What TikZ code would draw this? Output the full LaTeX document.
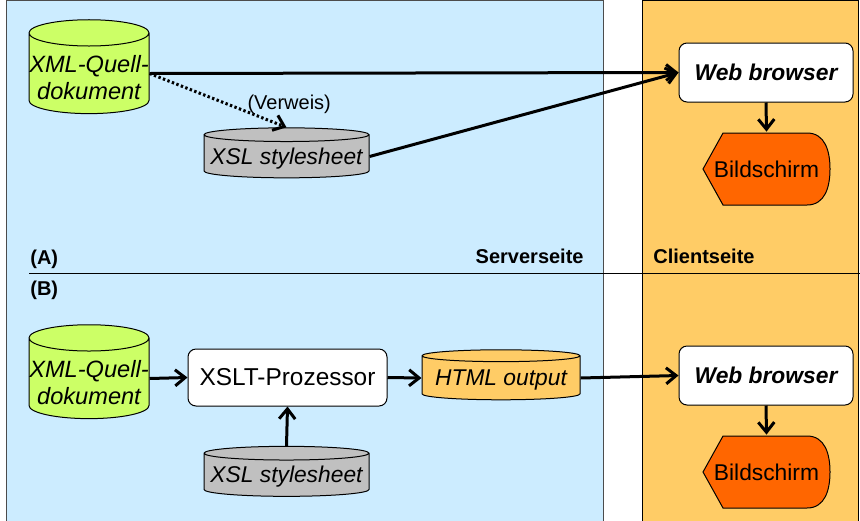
\documentclass[tikz,border=0pt]{standalone}
\usepackage{fontspec}
\setmainfont{Liberation Sans}
\usetikzlibrary{shapes.geometric, arrows.meta, calc}

\definecolor{serverblue}{RGB}{204,236,255}
\definecolor{clientorange}{RGB}{255,204,102}
\definecolor{xmlgreen}{RGB}{204,255,102}
\definecolor{xslgray}{RGB}{192,192,192}
\definecolor{screenorange}{RGB}{255,102,0}

\newcommand{\mainfont}{\fontsize{11.4}{13.5}\selectfont}
% text sits in the body of a cylinder, below its top
\newcommand{\lowtext}[2]{\raisebox{-#1}[\height][\depth]{%
    \begin{tabular}{@{}c@{}}#2\end{tabular}}}

\tikzset{
    db/.style={cylinder, shape border rotate=90, draw, line width=0.5pt,
        font=\mainfont\itshape, inner sep=0pt},
    proc/.style={draw, fill=white, rounded corners=4pt, line width=0.5pt,
        inner sep=0pt, font=\mainfont},
    scrbox/.style={minimum width=64.5pt, minimum height=37pt, inner sep=0pt,
        font=\mainfont,
        path picture={
            \filldraw[fill=screenorange, line width=0.5pt]
                ($(path picture bounding box.west)+(0.5pt,0)$)
                -- ($(path picture bounding box.north west)+(10.5pt,-0.5pt)$)
                -- ($(path picture bounding box.north east)+(-12pt,-0.5pt)$)
                .. controls ($(path picture bounding box.north east)+(-3pt,-0.5pt)$)
                and ($(path picture bounding box.east)+(-0.5pt,9pt)$)
                .. ($(path picture bounding box.east)+(-0.5pt,0)$)
                .. controls ($(path picture bounding box.east)+(-0.5pt,-9pt)$)
                and ($(path picture bounding box.south east)+(-3pt,0.5pt)$)
                .. ($(path picture bounding box.south east)+(-12pt,0.5pt)$)
                -- ($(path picture bounding box.south west)+(10.5pt,0.5pt)$)
                -- cycle;
        }},
    flow/.style={line width=1.5pt, -{Straight Barb[length=5pt,width=8pt]}},
    lbl/.style={font=\fontsize{10}{12}\selectfont\bfseries, inner sep=0pt}
}

\begin{document}
\begin{tikzpicture}[x=0.5pt, y=-0.5pt]
    \useasboundingbox (0,0) rectangle (860,520);
    % server and client side
    \filldraw[fill=serverblue, draw=black!70, line width=0.5pt] (6,0.5) rectangle (603,530);
    \filldraw[fill=clientorange, draw=black, line width=0.5pt] (642,0.5) rectangle (858.5,530);
    \draw[line width=0.5pt] (29,273) -- (860,273);

    \node[lbl, anchor=base west] (labA) at (30,264) {(A)};
    \node[lbl, anchor=base east] (server) at (584,263) {Serverseite};
    \node[lbl, anchor=base west] (client) at (653,263) {Clientseite};
    \node[lbl, anchor=base west] (labB) at (30,295) {(B)};

    % browser and screen, both cases
    \foreach \y/\n in {72.5/A, 375.5/B} {
        \node[proc, minimum width=87pt, minimum height=29.5pt,
            font=\mainfont\bfseries\itshape] (web\n) at (766,\y) {Web browser};
        \node[scrbox] (scr\n) at (766.5,\y+96.5) {Bildschirm};
        \draw[flow] (web\n.south) -- (scr\n.north);
    }

    % (A)
    \node[db, fill=xmlgreen, minimum width=60pt, minimum height=46.5pt, aspect=0.22,
        font=\fontsize{11.8}{13.5}\selectfont\itshape]
        (xmlA) at (89,73.5) {\lowtext{3.5pt}{XML-Quell-\\dokument}};
    \node[db, fill=xslgray, minimum width=82.5pt, minimum height=25pt, aspect=0.09]
        (xslA) at (286.5,156.5) {\lowtext{1.2pt}{XSL stylesheet}};
    \draw[flow] (xmlA.east) -- (webA.west);
    \draw[flow, dash pattern=on 1.2pt off 1.2pt] (xmlA.east) -- (xslA.north)
        node[pos=0.69, anchor=south west, inner sep=0pt, xshift=1pt, yshift=-2pt,
            font=\fontsize{10}{12}\selectfont] {(Verweis)};
    \draw[flow] (xslA.east) -- (webA.west);

    % (B)
    \node[db, fill=xmlgreen, minimum width=60pt, minimum height=46.5pt, aspect=0.22,
        font=\fontsize{11.8}{13.5}\selectfont\itshape]
        (xmlB) at (89,378.5) {\lowtext{3.5pt}{XML-Quell-\\dokument}};
    \node[proc, minimum width=99.5pt, minimum height=28.5pt,
        font=\fontsize{12.2}{14}\selectfont] (xslt) at (287.5,377.5) {XSLT-Prozessor};
    \node[db, fill=clientorange, minimum width=79pt, minimum height=25pt, aspect=0.09]
        (html) at (501,378) {\lowtext{1.2pt}{HTML output}};
    \node[db, fill=xslgray, minimum width=82.5pt, minimum height=25pt, aspect=0.09]
        (xslB) at (286.5,475) {\lowtext{1.2pt}{XSL stylesheet}};
    \draw[flow] (xmlB.east) -- (xslt.west);
    \draw[flow] (xslt.east) -- (html.west);
    \draw[flow] (html.east) -- (webB.west);
    \draw[flow] (xslB.north) -- (xslt.south);
\end{tikzpicture}
\end{document}
